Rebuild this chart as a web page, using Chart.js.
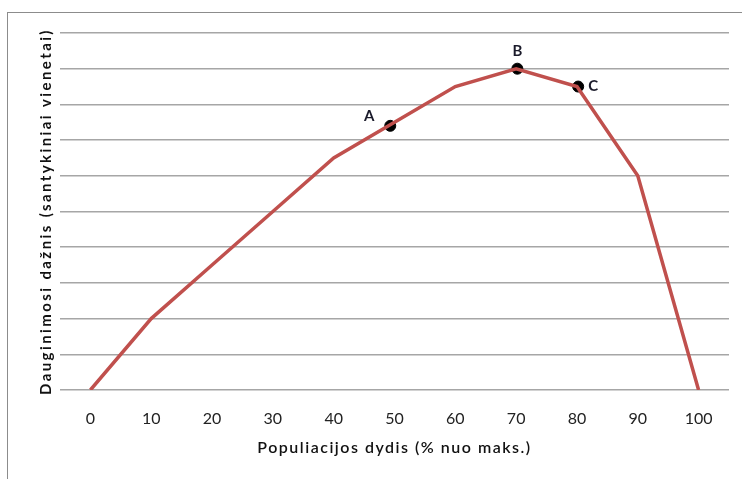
<!DOCTYPE html>
<html>
<head>
<meta charset="utf-8">
<script src="https://cdn.jsdelivr.net/npm/chart.js@4/dist/chart.umd.min.js"></script>
<style>
  html, body { margin: 0; padding: 0; background: #fff; }
  #wrap { position: relative; width: 742px; height: 479px; overflow: hidden; }
  #frame { position: absolute; left: 7px; top: 12px; width: 760px; height: 500px; border: 1px solid #8c8c8c; box-sizing: border-box; }
  #c { position: absolute; left: 0; top: 0; }
</style>
</head>
<body>
<div id="wrap">
  <div id="frame"></div>
  <canvas id="c" width="742" height="479"></canvas>
</div>
<script>
const xTicks = [0, 10, 20, 30, 40, 50, 60, 70, 80, 90, 100];
const curveX = [0, 10, 20, 30, 40, 50, 60, 70, 80, 90, 100];
const curveY = [0, 2, 3.5, 5, 6.5, 7.5, 8.5, 9, 8.5, 6, 0];
const markerLabels = ['A', 'B', 'C'];
const markerX = [49.3, 70.2, 80.2];
const markerY = [7.4, 9, 8.5];
const yGridValues = [0, 1, 2, 3, 4, 5, 6, 7, 8, 9, 10];

const FONT = 'Lato, "Open Sans", sans-serif';

function spacedTitle(scale, spacing) {
  if (scale.__spaced) return;
  const orig = scale.drawTitle.bind(scale);
  scale.drawTitle = function () {
    const ctx = this.ctx;
    const prev = ctx.letterSpacing;
    ctx.letterSpacing = spacing;
    orig();
    ctx.letterSpacing = prev || '0px';
  };
  scale.__spaced = true;
}

const titleSpacingPlugin = {
  id: 'titleSpacing',
  beforeDraw(chart) {
    spacedTitle(chart.scales.x, '1.5px');
    spacedTitle(chart.scales.y, '2.4px');
  }
};

const labelPlugin = {
  id: 'markerLabels',
  afterDatasetsDraw(chart) {
    const meta = chart.getDatasetMeta(1);
    const ctx = chart.ctx;
    ctx.save();
    ctx.font = 'bold 15px ' + FONT;
    ctx.fillStyle = '#1a1a2a';
    ctx.textBaseline = 'middle';
    const offsets = [[-21, -10, 'center'], [0, -18, 'center'], [10, 0, 'left']];
    meta.data.forEach((pt, i) => {
      const o = offsets[i];
      ctx.textAlign = o[2];
      ctx.fillText(markerLabels[i], pt.x + o[0], pt.y + o[1]);
    });
    ctx.restore();
  }
};

new Chart(document.getElementById('c'), {
  type: 'line',
  data: {
    datasets: [
      {
        type: 'line',
        data: curveX.map((x, i) => ({ x: x, y: curveY[i] })),
        borderColor: '#c0504d',
        borderWidth: 3.5,
        pointRadius: 0,
        tension: 0,
        fill: false
      },
      {
        type: 'scatter',
        data: markerX.map((x, i) => ({ x: x, y: markerY[i] })),
        backgroundColor: '#000',
        borderColor: '#000',
        pointRadius: 5.5,
        pointHoverRadius: 5.5
      }
    ]
  },
  options: {
    responsive: false,
    animation: false,
    events: [],
    layout: { padding: { left: 37, right: 13, top: 33, bottom: 22 } },
    plugins: { legend: { display: false }, tooltip: { enabled: false } },
    scales: {
      x: {
        type: 'linear',
        min: -5,
        max: 105,
        afterBuildTicks: s => { s.ticks = xTicks.map(v => ({ value: v })); },
        afterFit: s => { s.height = 67; },
        grid: { display: false },
        border: { display: false },
        ticks: { color: '#222', font: { family: FONT, size: 16 }, padding: 11, maxRotation: 0 },
        title: { display: true, text: 'Populiacijos dydis (% nuo maks.)', color: '#111', font: { family: FONT, size: 16, weight: '600' }, padding: { top: 0, bottom: 0 } }
      },
      y: {
        min: 0,
        max: 10,
        afterBuildTicks: s => { s.ticks = yGridValues.map(v => ({ value: v })); },
        afterFit: s => { s.width = 23; },
        grid: { color: '#a6a6a6', lineWidth: 1.6, drawTicks: false },
        border: { display: false },
        ticks: { display: false },
        title: { display: true, text: 'Dauginimosi dažnis (santykiniai vienetai)', color: '#111', font: { family: FONT, size: 15, weight: 'bold' }, padding: { top: 0, bottom: 0 } }
      }
    }
  },
  plugins: [titleSpacingPlugin, labelPlugin]
});
</script>
</body>
</html>
